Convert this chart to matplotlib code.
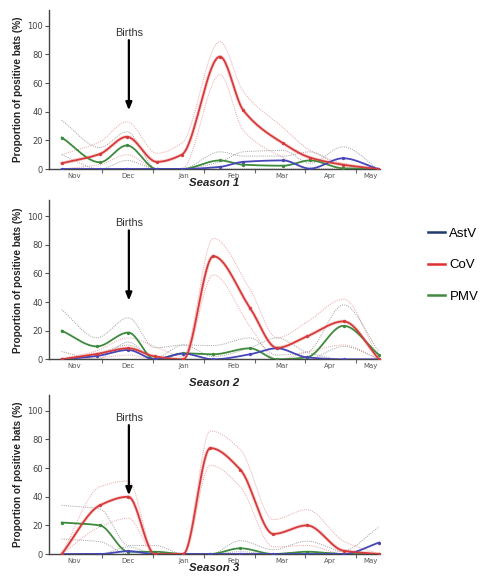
import numpy as np
import matplotlib
matplotlib.use("Agg")
import matplotlib.pyplot as plt
from matplotlib.lines import Line2D

# month labels and tick positions (x unit = one month, Nov starts at 0)
MONTHS = ['Nov', 'Dec', 'Jan', 'Feb', 'Mar', 'Apr', 'May']
MONTH_POS = [0.45, 1.51, 2.6, 3.58, 4.54, 5.49, 6.28]
BOUNDS = [1, 2, 3, 4, 5, 6]
YTICKS = [0, 20, 40, 60, 80, 100]

# --- Season 1 ---
S1_X = [0.21, 0.96, 1.49, 2.08, 2.57, 3.32, 3.78, 4.56, 5.09, 5.74, 6.43]
S1_COV = [4, 10.5, 22.5, 5, 10, 78.5, 41, 18, 8, 3, 0]
S1_COV_HI = [10, 19, 33, 11, 18, 89, 54, 29, 13, 4, 0]
S1_COV_LO = [0, 3, 10, 0, 0, 66, 27, 8, 0, 0, 0]
S1_PMV = [22, 4.7, 16.5, 0, 0, 6, 3, 2.3, 6, 0.5, 0]
S1_PMV_HI = [34, 15, 26, 0, 0, 12, 9, 9, 12, 2, 0]
S1_PMV_LO = [10, 0, 6, 0, 0, 0, 0, 0, 0, 0, 0]
S1_ASTV = [0, 0, 0, 0, 0, 1.5, 5, 6, 0.3, 7.5, 0]
S1_ASTV_HI = [0, 0, 0, 0, 0, 5, 12, 13, 4, 15.5, 0]

# --- Season 2 ---
S2_X = [0.21, 0.90, 1.52, 2.04, 2.60, 3.19, 3.91, 4.44, 5.03, 5.75, 6.45]
S2_COV = [0, 3.7, 7.7, 2, 0, 72, 36, 8, 16, 26.5, 0]
S2_COV_HI = [0, 6, 15, 9, 2, 84.5, 49, 15, 26, 42, 0]
S2_COV_LO = [0, 1, 3, 0, 0, 59, 23, 0, 5, 10, 0]
S2_PMV = [20, 9, 18.7, 0, 4.2, 3.5, 7.7, 0, 1.4, 23.4, 3]
S2_PMV_HI = [34.7, 15, 29, 8, 10, 9.6, 15, 3, 5, 38, 5]
S2_PMV_LO = [5.4, 0, 12, 0, 0, 0, 0, 0, 0, 9, 0]
S2_ASTV = [0, 2.3, 6.5, 0, 4, 0, 3.5, 7.7, 1.4, 0, 0]
S2_ASTV_HI = [0, 4, 10, 1, 10, 2, 8, 15, 5, 0, 0]

# --- Season 3 ---
S3_X = [0.21, 0.96, 1.52, 2.04, 2.60, 3.13, 3.72, 4.37, 5.03, 5.75, 6.45]
S3_COV = [0, 34, 40, 0, 0, 74, 59, 14, 20, 2.3, 0]
S3_COV_HI = [0, 47, 51, 0, 0, 86, 73, 24, 31, 9, 0]
S3_COV_LO = [0, 19, 25, 0, 0, 62, 47, 5, 6, 0, 0]
S3_PMV = [22, 20, 1.6, 1.6, 0, 0, 4, 0, 1.6, 0, 0]
S3_PMV_HI = [34, 31.5, 6, 6, 0, 0, 9.3, 3, 9, 1.5, 0]
S3_PMV_LO = [10.5, 8.6, 0, 0, 0, 0, 1.6, 0, 1.6, 0, 0]
S3_ASTV = [0, 0, 2, 0, 0, 0, 0, 0, 0, 0, 8]
S3_ASTV_HI = [0, 0, 5, 0, 0, 0, 0, 0, 0, 2, 19]

SEASONS = ['Season 1', 'Season 2', 'Season 3']

C_COV = '#d63a3a'
C_PMV = '#3d8a3d'
C_ASTV = '#4646b8'
C_COV_CI = '#e9a3a3'
C_CI = '#a0a0a0'


def smooth(x, y, n=300):
    # monotone cubic (pchip) curve through the sampled points
    x = np.asarray(x, float)
    y = np.asarray(y, float)
    h = np.diff(x)
    d = np.diff(y) / h
    m = np.zeros_like(y)
    m[0], m[-1] = d[0], d[-1]
    for k in range(1, len(x) - 1):
        if d[k - 1] * d[k] > 0:
            w1 = 2 * h[k] + h[k - 1]
            w2 = h[k] + 2 * h[k - 1]
            m[k] = (w1 + w2) / (w1 / d[k - 1] + w2 / d[k])
    xs = np.linspace(x[0], x[-1], n)
    idx = np.clip(np.searchsorted(x, xs) - 1, 0, len(x) - 2)
    t = (xs - x[idx]) / h[idx]
    h00 = 2 * t**3 - 3 * t**2 + 1
    h10 = t**3 - 2 * t**2 + t
    h01 = -2 * t**3 + 3 * t**2
    h11 = t**3 - t**2
    ys = h00 * y[idx] + h10 * h[idx] * m[idx] + h01 * y[idx + 1] + h11 * h[idx] * m[idx + 1]
    return xs, np.clip(ys, 0, None)


def ci_line(ax, x, y, color):
    xs, ys = smooth(x, y)
    ax.plot(xs, ys, color=color, lw=0.7, ls=(0, (1, 1.2)), zorder=2)


def mean_line(ax, x, y, color, halo=None):
    xs, ys = smooth(x, y)
    if halo:
        ax.plot(xs, ys, color=halo, lw=2.6, alpha=0.6, solid_capstyle='round', zorder=3)
    ax.plot(xs, ys, color=color, lw=1.3, zorder=4)
    ax.plot(x, y, 'o', color=color, ms=1.4, zorder=5)


fig = plt.figure(figsize=(4.95, 5.80), dpi=100)

panels = [
    (0.7086, S1_X, S1_COV, S1_COV_HI, S1_COV_LO, S1_PMV, S1_PMV_HI, S1_PMV_LO, S1_ASTV, S1_ASTV_HI, -0.088),
    (0.3805, S2_X, S2_COV, S2_COV_HI, S2_COV_LO, S2_PMV, S2_PMV_HI, S2_PMV_LO, S2_ASTV, S2_ASTV_HI, -0.15),
    (0.0448, S3_X, S3_COV, S3_COV_HI, S3_COV_LO, S3_PMV, S3_PMV_HI, S3_PMV_LO, S3_ASTV, S3_ASTV_HI, -0.088),
]

for i, (bottom, x, cov, cov_hi, cov_lo, pmv, pmv_hi, pmv_lo, astv, astv_hi, ty) in enumerate(panels):
    ax = fig.add_axes([0.099, bottom, 0.669, 0.274])

    ci_line(ax, x, cov_hi, C_COV_CI)
    ci_line(ax, x, cov_lo, C_COV_CI)
    ci_line(ax, x, pmv_hi, C_CI)
    ci_line(ax, x, pmv_lo, C_CI)
    ci_line(ax, x, astv_hi, C_CI)

    mean_line(ax, x, pmv, C_PMV)
    mean_line(ax, x, astv, C_ASTV)
    mean_line(ax, x, cov, C_COV, halo='#f6baba')

    ax.set_xlim(-0.04, 6.47)
    ax.set_ylim(0, 111)
    ax.set_yticks(YTICKS)
    ax.set_xticks(BOUNDS)
    ax.set_xticklabels([])
    ax.set_xticks(MONTH_POS, minor=True)
    ax.set_xticklabels(MONTHS, minor=True)
    ax.tick_params(axis='x', which='major', length=3, width=0.8, color='#666666', direction='out')
    ax.tick_params(axis='x', which='minor', length=0, labelsize=5, labelcolor='#555555', pad=3)
    ax.tick_params(axis='y', length=3, width=0.8, color='#555555', labelsize=6, labelcolor='#444444', pad=1.5)

    for s in ['top', 'right']:
        ax.spines[s].set_visible(False)
    for s in ['left', 'bottom']:
        ax.spines[s].set_color('#444444')
        ax.spines[s].set_linewidth(1.0)

    ax.set_ylabel('Proportion of positive bats (%)', family='Liberation Sans', fontweight='bold',
                  fontsize=7.2, color='#222222', labelpad=3)

    ax.text(1.53, 95, 'Births', ha='center', va='center', fontsize=7.8,
            family='Liberation Sans', color='#333333')
    ax.annotate('', xy=(1.53, 41), xytext=(1.53, 90),
                arrowprops=dict(arrowstyle='-|>,head_width=0.18,head_length=0.45',
                                color='black', lw=1.6, shrinkA=0, shrinkB=0))

    ax.text(0.5, ty, SEASONS[i], transform=ax.transAxes, ha='center', va='center',
            fontsize=8.2, fontweight='bold', fontstyle='italic', family='Liberation Sans',
            color='#222222')

handles = [Line2D([], [], color='#1f3a6e', lw=1.8),
           Line2D([], [], color='#e03030', lw=1.8),
           Line2D([], [], color='#3f8a3f', lw=1.8)]
fig.legend(handles, ['AstV', 'CoV', 'PMV'], loc='upper left', bbox_to_anchor=(0.84, 0.628),
           frameon=False, handlelength=1.3, handletextpad=0.35, labelspacing=1.45,
           prop={'family': 'Liberation Sans', 'size': 9.5})

fig.savefig('out.png', dpi=100)
